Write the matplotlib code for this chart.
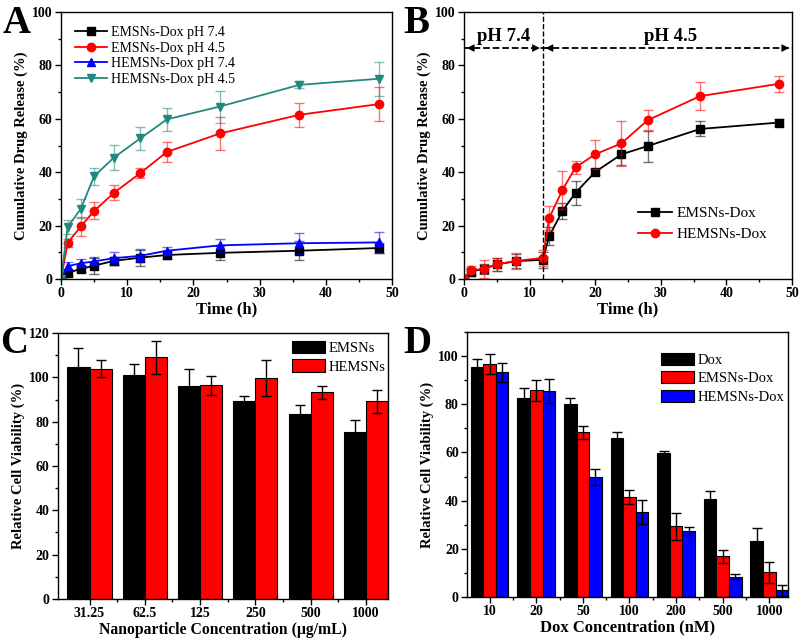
import numpy as np
import matplotlib
matplotlib.use("Agg")
import matplotlib.pyplot as plt
from matplotlib.ticker import MultipleLocator

plt.rcParams['font.family'] = ['Liberation Serif', 'DejaVu Serif']

# ---- panel A: release at fixed pH ----
time_a = [0, 1, 3, 5, 8, 12, 16, 24, 36, 48]
emsn_74 = [0, 2.3, 3.8, 5.0, 6.8, 8.0, 9.0, 9.8, 10.6, 11.6]
emsn_74_err = [0, 1.0, 1.2, 3.0, 1.5, 3.0, 1.5, 2.5, 3.5, 2.0]
emsn_45 = [0, 13.5, 19.7, 25.5, 32.3, 39.7, 47.6, 54.5, 61.5, 65.5]
emsn_45_err = [0, 1.5, 3.5, 3.2, 2.8, 1.7, 3.7, 6.0, 4.5, 6.5]
hemsn_74 = [0, 4.8, 5.9, 6.6, 7.8, 8.7, 10.6, 12.6, 13.4, 13.7]
hemsn_74_err = [0, 1.5, 1.5, 1.5, 2.5, 2.5, 1.5, 2.5, 4.0, 3.8]
hemsn_45 = [0, 19.5, 26.3, 38.5, 45.5, 52.7, 59.8, 64.6, 72.7, 75.0]
hemsn_45_err = [0, 2.5, 3.5, 3.2, 4.7, 4.2, 4.3, 6.0, 1.3, 6.3]

# ---- panel B: pH switch at 12 h ----
time_b = [0, 1, 3, 5, 8, 12, 13, 15, 17, 20, 24, 28, 36, 48]
emsn_b = [0, 2.8, 3.8, 5.5, 6.7, 7.2, 16.1, 25.5, 32.3, 40.1, 46.7, 49.8, 56.2, 58.6]
emsn_b_err = [0, 1.5, 2.0, 2.5, 2.5, 3.0, 3.5, 3.0, 4.5, 1.0, 4.0, 5.8, 2.8, 1.2]
hemsn_b = [0, 3.2, 3.8, 5.5, 6.8, 7.9, 22.9, 33.3, 41.8, 46.7, 50.8, 59.5, 68.5, 73.1]
hemsn_b_err = [0, 1.5, 3.5, 2.5, 3.0, 3.0, 4.5, 7.0, 2.3, 5.5, 8.5, 3.8, 5.2, 3.0]
switch_time = 12
arrow_y = 86.5

# ---- panel C: carrier cytotoxicity ----
np_conc = ['31.25', '62.5', '125', '250', '500', '1000']
via_emsn = [104.7, 101.1, 96.1, 89.1, 83.5, 75.3]
via_emsn_err = [8.5, 5.0, 7.5, 2.4, 4.2, 5.4]
via_hemsn = [103.9, 109.0, 96.4, 99.6, 93.3, 89.1]
via_hemsn_err = [3.8, 7.3, 4.4, 8.0, 3.0, 5.0]

# ---- panel D: drug cytotoxicity ----
dox_conc = ['10', '20', '50', '100', '200', '500', '1000']
via_dox = [95.3, 82.5, 80.0, 65.8, 59.8, 40.6, 23.3]
via_dox_err = [3.5, 4.4, 2.5, 2.7, 0.8, 3.3, 5.5]
via_emsn_dox = [96.6, 85.8, 68.3, 41.6, 29.3, 16.9, 10.2]
via_emsn_dox_err = [4.1, 4.3, 2.8, 3.0, 5.7, 2.6, 4.3]
via_hemsn_dox = [93.2, 85.5, 49.9, 35.3, 27.5, 8.4, 2.8]
via_hemsn_dox_err = [3.9, 4.8, 3.4, 5.0, 1.7, 1.0, 2.2]

TEAL = '#23887D'
TICK_FS = 10
XLABEL_FS = 12
YLABEL_FS = 10.5


def style_axes(ax):
    for sp in ax.spines.values():
        sp.set_linewidth(1.0)
    ax.tick_params(which='both', direction='out', top=False, right=False, width=1.0,
                   labelsize=TICK_FS, pad=2)
    ax.tick_params(which='major', length=4)
    ax.tick_params(which='minor', length=2.5)
    for lab in ax.get_xticklabels() + ax.get_yticklabels():
        lab.set_fontweight('bold')


def err_line(ax, x, y, e, color, marker, label):
    ax.errorbar(x, y, yerr=e, fmt='none', ecolor=color, alpha=0.55, capsize=3.5,
                elinewidth=1.0, capthick=1.0)
    ax.plot(x, y, color=color, marker=marker, markersize=6, lw=1.3, label=label)


fig = plt.figure(figsize=(8.0, 6.42), dpi=100)

# A
axA = fig.add_axes([0.07625, 0.5654, 0.41375, 0.4159])
err_line(axA, time_a, emsn_74, emsn_74_err, 'black', 's', 'EMSNs-Dox pH 7.4')
err_line(axA, time_a, emsn_45, emsn_45_err, 'red', 'o', 'EMSNs-Dox pH 4.5')
err_line(axA, time_a, hemsn_74, hemsn_74_err, 'blue', '^', 'HEMSNs-Dox pH 7.4')
err_line(axA, time_a, hemsn_45, hemsn_45_err, TEAL, 'v', 'HEMSNs-Dox pH 4.5')
axA.set_xlim(0, 50)
axA.set_ylim(0, 100)
axA.xaxis.set_major_locator(MultipleLocator(10))
axA.xaxis.set_minor_locator(MultipleLocator(5))
axA.yaxis.set_major_locator(MultipleLocator(20))
axA.yaxis.set_minor_locator(MultipleLocator(10))
axA.set_xlabel('Time (h)', fontsize=XLABEL_FS, fontweight='bold', labelpad=1)
axA.set_ylabel('Cumulative Drug Release (%)', fontsize=YLABEL_FS, fontweight='bold',
               labelpad=3)
axA.legend(loc='upper left', bbox_to_anchor=(0.012, 0.985), frameon=False, fontsize=10,
           handlelength=2.3, labelspacing=0.2, handletextpad=0.3, borderaxespad=0.3)
style_axes(axA)

# B
axB = fig.add_axes([0.58, 0.5654, 0.41, 0.4159])
err_line(axB, time_b, emsn_b, emsn_b_err, 'black', 's', 'EMSNs-Dox')
err_line(axB, time_b, hemsn_b, hemsn_b_err, 'red', 'o', 'HEMSNs-Dox')
axB.axvline(switch_time, color='black', ls='--', lw=1.0)
axB.set_xlim(0, 50)
axB.set_ylim(0, 100)
for x0, x1 in [(0, switch_time), (switch_time, 50)]:
    axB.plot([x0, x1], [arrow_y, arrow_y], color='black', ls='--', lw=1.3)
    axB.annotate('', xy=(x0, arrow_y), xytext=(x0 + 2, arrow_y),
                 arrowprops=dict(arrowstyle='-|>', color='black', lw=0, mutation_scale=14))
    axB.annotate('', xy=(x1, arrow_y), xytext=(x1 - 2, arrow_y),
                 arrowprops=dict(arrowstyle='-|>', color='black', lw=0, mutation_scale=14))
axB.text(switch_time / 2, 89.3, 'pH 7.4', ha='center', va='baseline', fontsize=13.5,
         fontweight='bold')
axB.text(31.5, 89.3, 'pH 4.5', ha='center', va='baseline', fontsize=13.5,
         fontweight='bold')
axB.xaxis.set_major_locator(MultipleLocator(10))
axB.xaxis.set_minor_locator(MultipleLocator(5))
axB.yaxis.set_major_locator(MultipleLocator(20))
axB.yaxis.set_minor_locator(MultipleLocator(10))
axB.set_xlabel('Time (h)', fontsize=XLABEL_FS, fontweight='bold', labelpad=1)
axB.set_ylabel('Cumulative Drug Release (%)', fontsize=YLABEL_FS, fontweight='bold',
               labelpad=3)
axB.legend(loc='lower left', bbox_to_anchor=(0.49, 0.09), frameon=False, fontsize=11,
           handlelength=2.2, labelspacing=0.5, handletextpad=0.3)
style_axes(axB)

# C
axC = fig.add_axes([0.0725, 0.067, 0.4125, 0.4143])
xc = np.arange(len(np_conc))
ekw = dict(ecolor='black', capsize=3.5, elinewidth=1.0, capthick=1.0)
axC.bar(xc - 0.2, via_emsn, 0.4, yerr=via_emsn_err, color='black', edgecolor='black',
        lw=0.8, error_kw=ekw, label='EMSNs')
axC.bar(xc + 0.2, via_hemsn, 0.4, yerr=via_hemsn_err, color='red', edgecolor='black',
        lw=0.8, error_kw=ekw, label='HEMSNs')
axC.set_xlim(-0.57, 5.4)
axC.set_ylim(0, 120)
axC.set_xticks(xc)
axC.set_xticklabels(np_conc)
axC.set_xticks(xc[:-1] + 0.5, minor=True)
axC.yaxis.set_major_locator(MultipleLocator(20))
axC.yaxis.set_minor_locator(MultipleLocator(10))
axC.set_xlabel('Nanoparticle Concentration (\u03bcg/mL)', fontsize=11.3,
               fontweight='bold', labelpad=1)
axC.set_ylabel('Relative Cell Viability (%)', fontsize=YLABEL_FS, fontweight='bold',
               labelpad=3)
axC.legend(loc='upper right', bbox_to_anchor=(1.011, 0.992), frameon=False, fontsize=10.5,
           handlelength=2.3, handleheight=0.9, labelspacing=0.3, handletextpad=0.25,
           borderaxespad=0)
style_axes(axC)

# D
axD = fig.add_axes([0.584, 0.070, 0.401, 0.413])
xd = np.arange(len(dox_conc))
w = 0.27
axD.bar(xd - w, via_dox, w, yerr=via_dox_err, color='black', edgecolor='black', lw=0.8,
        error_kw=ekw, label='Dox')
axD.bar(xd, via_emsn_dox, w, yerr=via_emsn_dox_err, color='red', edgecolor='black', lw=0.8,
        error_kw=ekw, label='EMSNs-Dox')
axD.bar(xd + w, via_hemsn_dox, w, yerr=via_hemsn_dox_err, color='blue', edgecolor='black',
        lw=0.8, error_kw=ekw, label='HEMSNs-Dox')
axD.set_xlim(-0.48, 6.4)
axD.set_ylim(0, 110)
axD.set_xticks(xd)
axD.set_xticklabels(dox_conc)
axD.set_xticks(xd[:-1] + 0.5, minor=True)
axD.yaxis.set_major_locator(MultipleLocator(20))
axD.yaxis.set_minor_locator(MultipleLocator(10))
axD.set_xlabel('Dox Concentration (nM)', fontsize=XLABEL_FS, fontweight='bold', labelpad=1)
axD.set_ylabel('Relative Cell Viability (%)', fontsize=YLABEL_FS, fontweight='bold',
               labelpad=3)
axD.legend(loc='upper right', bbox_to_anchor=(1.008, 0.943), frameon=False, fontsize=10.5,
           handlelength=2.3, handleheight=0.9, labelspacing=0.3, handletextpad=0.25,
           borderaxespad=0)
style_axes(axD)

for lab, x, y in [('A', 0.003, 0.992), ('B', 0.504, 0.992), ('C', 0.0, 0.494),
                  ('D', 0.504, 0.494)]:
    fig.text(x, y, lab, fontsize=28, fontweight='bold', ha='left', va='top')

fig.savefig('out.png', dpi=100)
